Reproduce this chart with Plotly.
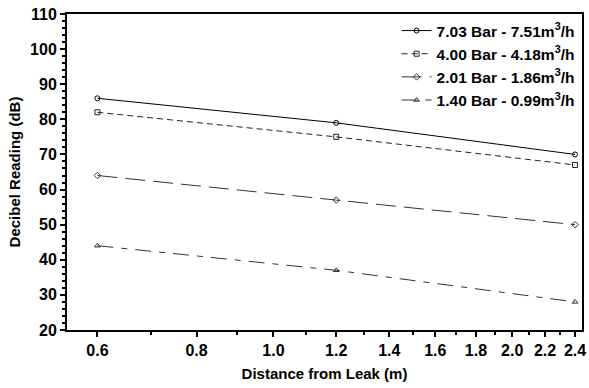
import plotly.graph_objects as go

distance = [0.6, 1.2, 2.4]
s1 = [86, 79, 70]
s2 = [82, 75, 67]
s3 = [64, 57, 50]
s4 = [44, 37, 28]
names = ["7.03 Bar - 7.51m<sup>3</sup>/h", "4.00 Bar - 4.18m<sup>3</sup>/h",
         "2.01 Bar - 1.86m<sup>3</sup>/h", "1.40 Bar - 0.99m<sup>3</sup>/h"]
x_ticks = [0.6, 0.8, 1.0, 1.2, 1.4, 1.6, 1.8, 2.0, 2.2, 2.4]
x_minor = [0.7, 0.9, 1.1, 1.3, 1.5, 1.7, 1.9, 2.1, 2.3]
y_ticks = [20, 30, 40, 50, 60, 70, 80, 90, 100, 110]

styles = [
    dict(dash="solid", symbol="circle-open", color="#000000"),
    dict(dash="6px,4px", symbol="square-open", color="#222222"),
    dict(dash="20px,8px", symbol="diamond-open", color="#333333"),
    dict(dash="16px,8px,6px,8px", symbol="triangle-up-open", color="#333333"),
]

fam = "Liberation Sans, Arial, sans-serif"

fig = go.Figure()
for ys, nm, st in zip([s1, s2, s3, s4], names, styles):
    fig.add_trace(go.Scatter(
        x=distance, y=ys, name="<b>" + nm + "</b>", mode="lines+markers",
        line=dict(color=st["color"], width=1, dash=st["dash"]),
        marker=dict(symbol=st["symbol"], size=5, color=st["color"],
                    line=dict(width=1, color=st["color"])),
    ))

fig.update_layout(
    width=589, height=388,
    margin=dict(l=67, r=3, t=14, b=58),
    plot_bgcolor="white", paper_bgcolor="white",
    font=dict(family=fam, size=15, color="#000000"),
    showlegend=True,
    legend=dict(x=0.64, y=1.0, xanchor="left", yanchor="top",
                bgcolor="rgba(0,0,0,0)",
                font=dict(family=fam, size=15.5, color="#000000"),
                tracegroupgap=0, itemwidth=30),
    xaxis=dict(
        type="log", range=[-0.2602, 0.389],
        tickvals=x_ticks, ticktext=[f"<b>{v:.1f}</b>" for v in x_ticks],
        ticks="outside", ticklen=5, tickwidth=1.5, tickcolor="black",
        showline=True, linewidth=2, linecolor="black", mirror=True,
        showgrid=False, zeroline=False,
        tickfont=dict(family=fam, size=16, color="#000000"),
        title=dict(text="<b>Distance from Leak (m)</b>", standoff=10,
                   font=dict(family=fam, size=15, color="#000000")),
        minor=dict(tickvals=x_minor, ticks="outside", ticklen=3, tickcolor="black", showgrid=False),
    ),
    yaxis=dict(
        range=[20, 110],
        tickvals=y_ticks, ticktext=[f"<b>{v}</b>" for v in y_ticks],
        ticks="outside", ticklen=5, tickwidth=1.5, tickcolor="black",
        showline=True, linewidth=2, linecolor="black", mirror=True,
        showgrid=False, zeroline=False,
        tickfont=dict(family=fam, size=16, color="#000000"),
        title=dict(text="<b>Decibel Reading (dB)</b>", standoff=6,
                   font=dict(family=fam, size=15, color="#000000")),
        minor=dict(dtick=2, ticks="outside", ticklen=3, tickcolor="black", showgrid=False),
    ),
)

fig.write_html("out.html")
